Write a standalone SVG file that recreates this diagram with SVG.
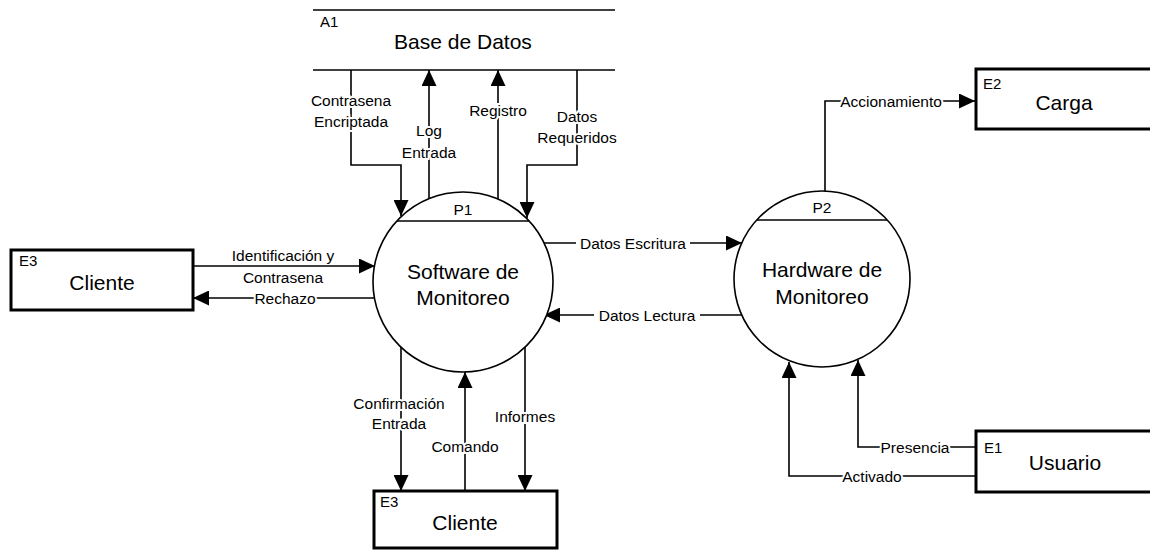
<svg xmlns="http://www.w3.org/2000/svg" width="1150" height="550" viewBox="0 0 1150 550">
<defs>
<marker id="arr" markerUnits="userSpaceOnUse" markerWidth="16" markerHeight="15" refX="16" refY="7.5" orient="auto">
<path d="M0,0 L16,7.5 L0,15 z" fill="#000"/>
</marker>
<style>
.ln{fill:none;stroke:#000;stroke-width:1.6}
.ar{marker-end:url(#arr)}
.box{fill:#fff;stroke:#000;stroke-width:3}
.proc{fill:#fff;stroke:#000;stroke-width:1.6}
.t{font-family:"Liberation Sans",Arial,sans-serif;fill:#000}
.lbl{font-size:15.5px;text-anchor:middle;dominant-baseline:central;paint-order:stroke;stroke:#fff;stroke-width:4px}
.big{font-size:21px;text-anchor:middle}
.id{font-size:15px}
.bg{fill:#fff}
</style>
</defs>
<rect width="1150" height="550" fill="#fff"/>

<g id="connectors">
<path class="ln ar" d="M351,70 V165 H401 V216"/>
<path class="ln ar" d="M429,199 V70"/>
<path class="ln ar" d="M498,199 V70"/>
<path class="ln ar" d="M577,70 V165 H527 V218"/>
<path class="ln ar" d="M193,266 H375"/>
<path class="ln ar" d="M375,298 H193"/>
<path class="ln ar" d="M544,243 H742"/>
<path class="ln ar" d="M742,315 H544"/>
<path class="ln ar" d="M401,347 V491"/>
<path class="ln ar" d="M465,491 V372"/>
<path class="ln ar" d="M525,347 V491"/>
<path class="ln ar" d="M825,191 V101 H975"/>
<path class="ln ar" d="M975,447 H858 V360"/>
<path class="ln ar" d="M975,476 H789 V362"/>
<rect class="bg" x="576" y="235" width="114" height="16"/>
<rect class="bg" x="594" y="307" width="106" height="16"/>
<g class="t lbl">
<text x="351" y="100">Contrasena</text>
<text x="351" y="121">Encriptada</text>
<text x="429" y="130">Log</text>
<text x="429" y="152">Entrada</text>
<text x="498" y="110">Registro</text>
<text x="577" y="116">Datos</text>
<text x="577" y="137">Requeridos</text>
<text x="283" y="255" style="stroke:none">Identificación y</text>
<text x="283" y="277" style="stroke:none">Contrasena</text>
<text x="285" y="298">Rechazo</text>
<text x="633" y="243" style="stroke:none">Datos Escritura</text>
<text x="647" y="315" style="stroke:none">Datos Lectura</text>
<text x="399" y="403">Confirmación</text>
<text x="399" y="423">Entrada</text>
<text x="465" y="446">Comando</text>
<text x="525" y="416">Informes</text>
<text x="891" y="101">Accionamiento</text>
<text x="915" y="447">Presencia</text>
<text x="872" y="476">Activado</text>
</g>
</g>

<g id="A1">
<line class="ln" x1="313" y1="10" x2="615" y2="10"/>
<line class="ln" x1="313" y1="70" x2="615" y2="70"/>
<text class="t id" x="320" y="27">A1</text>
<text class="t big" x="463" y="49">Base de Datos</text>
</g>

<g id="P1">
<circle class="proc" cx="463" cy="282" r="90"/>
<line class="ln" x1="397" y1="221" x2="529" y2="221"/>
<text class="t" x="463" y="215" font-size="15.5" text-anchor="middle">P1</text>
<text class="t big" x="463" y="279">Software de</text>
<text class="t big" x="463" y="305">Monitoreo</text>
</g>

<g id="P2">
<circle class="proc" cx="822" cy="279" r="88"/>
<line class="ln" x1="757" y1="220" x2="887" y2="220"/>
<text class="t" x="822" y="213" font-size="15.5" text-anchor="middle">P2</text>
<text class="t big" x="822" y="277">Hardware de</text>
<text class="t big" x="822" y="304">Monitoreo</text>
</g>

<g id="E3-left">
<rect class="box" x="11" y="250" width="182" height="60"/>
<text class="t id" x="19" y="266">E3</text>
<text class="t big" x="102" y="290">Cliente</text>
</g>

<g id="E3-bottom">
<rect class="box" x="374" y="491" width="183" height="57"/>
<text class="t id" x="380" y="507">E3</text>
<text class="t big" x="465" y="530">Cliente</text>
</g>

<g id="E2">
<rect class="box" x="976" y="69" width="180" height="60"/>
<text class="t id" x="983" y="89">E2</text>
<text class="t big" x="1064" y="110">Carga</text>
</g>

<g id="E1">
<rect class="box" x="976" y="431" width="180" height="61"/>
<text class="t id" x="984" y="453">E1</text>
<text class="t big" x="1065" y="470">Usuario</text>
</g>
</svg>
